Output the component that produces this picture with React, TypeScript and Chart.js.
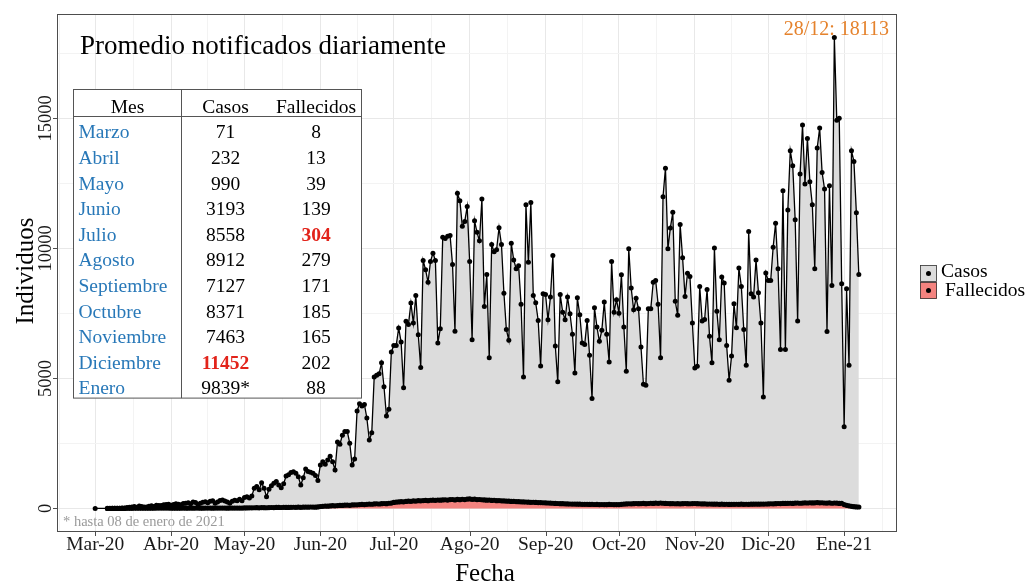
import React, { useEffect, useRef } from "react";
import { Chart, registerables } from "chart.js";

Chart.register(...registerables);

// ---------------- data ----------------
const seriesStart = "2020-03-01";

const casosMar = [0, null, null, null, null, 1, 2, 5, 4, 9, 11, 17, 22, 33, 42, 60, 74, 45, 90, 75, 55, 60, 80, 100, 75, 120, 110, 115, 140, 150, 160];
const casosAbr = [120, 150, 180, 160, 140, 190, 200, 220, 180, 250, 230, 160, 200, 240, 260, 220, 280, 300, 200, 250, 310, 330, 290, 250, 200, 280, 320, 300, 350, 300];
const casosMay = [420, 450, 400, 480, 780, 840, 720, 990, 780, 450, 740, 870, 970, 1040, 900, 800, 950, 1250, 1300, 1380, 1410, 1350, 1220, 900, 1180, 1515, 1420, 1390, 1350, 1270, 1080];
const casosJun = [1670, 1800, 1700, 1860, 2010, 1800, 1480, 2560, 2470, 2820, 2960, 2960, 2510, 1670, 1900, 3750, 4030, 3940, 4000, 3480, 2630, 2910, 5060, 5120, 5180, 5600, 4680, 3560, 3820, 6020];
const casosJul = [6270, 6270, 6940, 6400, 4640, 7200, 7080, 7900, 7130, 8190, 6680, 5420, 9540, 9180, 8700, 9500, 9820, 9540, 6360, 6910, 10430, 10380, 10470, 10500, 9380, 6820, 12120, 11840, 10850, 11040, 11610];
const casosAgo = [9500, 6490, 11070, 10620, 10300, 11900, 7770, 9000, 5800, 10150, 9870, 9950, 10800, 10150, 8280, 6880, 6470, 10200, 9560, 9220, 9340, 7850, 5060, 11680, 9470, 11770, 8190, 7910, 7230, 5480, 8260];
const casosSep = [8230, 7260, 8130, 9730, 6250, 4870, 8230, 7550, 7260, 8130, 7490, 6700, 5210, 8100, 7450, 6360, 6310, 7230, 5890, 4230, 7720, 6980, 6430, 6850, 7940, 6700, 5630, 9500, 7550, 8030];
const casosOct = [7510, 8990, 6980, 5280, 9990, 8480, 7640, 8090, 7680, 6210, 4780, 4740, 7680, 7680, 8700, 8770, 7850, 5800, 11990, 13090, 9990, 10790, 11390, 7970, 7430, 10920, 9640, 8150, 9050, 8920, 7130];
const casosNov = [5400, 5470, 8540, 7210, 7270, 8420, 6620, 5600, 10020, 7590, 6490, 8900, 8670, 6270, 4930, 5860, 7870, 6950, 9250, 8540, 6880, 5510, 10650, 8260, 8130, 9560, 8300, 7130, 4290, 9060];
const casosDic = [8770, 8770, 10050, 10970, 9220, 6110, 12220, 6110, 11480, 13760, 13180, 11100, 7210, 12860, 14750, 12480, 14230, 12570, 11680, 9220, 13860, 14630, 12920, 12290, 6810, 12410, 8580, 18113, 14930, 15010, 8640];
const casosEne = [3140, 8450, 5510, 13760, 13350, 11370, 9000];

const fallecidosMar = [null, null, null, null, null, 0, 0, 0, 0, 1, 1, 2, 3, 4, 5, 6, 7, 8, 9, 9, 10, 11, 11, 12, 12, 13, 13, 14, 14, 15, 15];
const fallecidosAbr = [10, 11, 9, 12, 10, 13, 12, 11, 14, 12, 13, 15, 11, 12, 14, 13, 15, 12, 14, 16, 13, 15, 14, 12, 16, 15, 14, 13, 15, 16];
const fallecidosMay = [20, 22, 25, 24, 28, 30, 26, 32, 30, 28, 34, 36, 33, 38, 40, 37, 42, 40, 39, 44, 46, 43, 48, 45, 50, 52, 48, 55, 53, 50, 58];
const fallecidosJun = [75, 82, 90, 88, 98, 105, 100, 110, 118, 115, 125, 130, 122, 135, 140, 138, 150, 155, 148, 160, 168, 162, 175, 180, 172, 185, 190, 182, 200, 208];
const fallecidosJul = [230, 245, 250, 262, 255, 270, 280, 275, 290, 285, 300, 295, 305, 310, 298, 315, 320, 312, 325, 318, 330, 335, 322, 340, 345, 330, 350, 338, 355, 342, 360];
const fallecidosAgo = [365, 350, 358, 340, 345, 335, 330, 320, 325, 310, 315, 300, 305, 295, 290, 285, 280, 270, 275, 265, 260, 255, 250, 248, 240, 235, 238, 230, 225, 228, 220];
const fallecidosSep = [215, 210, 205, 200, 195, 190, 185, 182, 178, 175, 172, 170, 168, 165, 163, 160, 158, 160, 155, 157, 152, 155, 150, 153, 148, 150, 155, 152, 150, 148];
const fallecidosOct = [150, 160, 170, 175, 180, 178, 185, 190, 182, 188, 195, 185, 190, 200, 195, 205, 198, 210, 200, 195, 190, 185, 188, 180, 182, 178, 185, 190, 183, 180, 186];
const fallecidosNov = [190, 185, 180, 175, 178, 170, 172, 168, 165, 170, 160, 165, 158, 162, 155, 160, 158, 162, 160, 165, 158, 162, 160, 165, 163, 168, 165, 170, 168, 172];
const fallecidosDic = [175, 180, 178, 185, 190, 188, 192, 195, 198, 200, 195, 205, 210, 200, 208, 215, 210, 220, 212, 218, 225, 215, 220, 210, 205, 215, 200, 210, 205, 195, 200];
const fallecidosEne = [150, 120, 100, 80, 70, 60, 55];

const tableMonths = ["Marzo", "Abril", "Mayo", "Junio", "Julio", "Agosto", "Septiembre", "Octubre", "Noviembre", "Diciembre", "Enero"];
const tableCases = [71, 232, 990, 3193, 8558, 8912, 7127, 8371, 7463, 11452, 9839];
const tableDeaths = [8, 13, 39, 139, 304, 279, 171, 185, 165, 202, 88];
const tableHeaders = ["Mes", "Casos", "Fallecidos"];

const xTickDates = ["2020-03-01", "2020-04-01", "2020-05-01", "2020-06-01", "2020-07-01", "2020-08-01", "2020-09-01", "2020-10-01", "2020-11-01", "2020-12-01", "2021-01-01"];
const xTickLabels = ["Mar-20", "Abr-20", "May-20", "Jun-20", "Jul-20", "Ago-20", "Sep-20", "Oct-20", "Nov-20", "Dic-20", "Ene-21"];
const yTickValues = [0, 5000, 10000, 15000];

const chartTitle = "Promedio notificados diariamente";
const footnote = "* hasta 08 de enero de 2021";
const xTitle = "Fecha";
const yTitle = "Individuos";
const seriesNames = ["Casos", "Fallecidos"];

// ---------------- helpers ----------------
const MS_DAY = 86400000;
const ORIGIN = Date.UTC(2020, 2, 1);
function dayIndex(iso: string): number {
  const [y, m, d] = iso.split("-").map(Number);
  return Math.round((Date.UTC(y, m - 1, d) - ORIGIN) / MS_DAY);
}
function isoOfDay(i: number): Date {
  return new Date(ORIGIN + i * MS_DAY);
}

const casos: (number | null)[] = ([] as (number | null)[]).concat(casosMar, casosAbr, casosMay, casosJun, casosJul, casosAgo, casosSep, casosOct, casosNov, casosDic, casosEne);
const fallecidos: (number | null)[] = ([] as (number | null)[]).concat(fallecidosMar, fallecidosAbr, fallecidosMay, fallecidosJun, fallecidosJul, fallecidosAgo, fallecidosSep, fallecidosOct, fallecidosNov, fallecidosDic, fallecidosEne);

const start = dayIndex(seriesStart);
const casosPts = casos.map((v, i) => ({ x: start + i, y: v }));
const fallecidosPts = fallecidos.map((v, i) => ({ x: start + i, y: v }));

const GREY = "#DCDCDC";
const PINK = "#F4837F";
const BLUE = "#2878B8";
const RED = "#E2231A";
const ORANGE = "#E5822C";
const FONT = '"Liberation Serif", "Times New Roman", serif';
const f = (s: number, bold = false) => `${bold ? "bold " : ""}${s}px ${FONT}`;

export default function App() {
  const ref = useRef<HTMLCanvasElement | null>(null);

  useEffect(() => {
    const canvas = ref.current;
    if (!canvas) return;

    // ggplot-like 5% expansion
    const validX = casosPts.filter((p) => p.y !== null).map((p) => p.x);
    const xMinD = Math.min(...validX);
    const xMaxD = Math.max(...validX);
    const xPad = 0.05 * (xMaxD - xMinD);
    const allY = [...casos, ...fallecidos].filter((v) => v !== null) as number[];
    const yMinD = Math.min(0, ...allY);
    const yMaxD = Math.max(...allY);
    const yPad = 0.05 * (yMaxD - yMinD);
    const xMin = xMinD - xPad;
    const xMax = xMaxD + xPad;
    const yMin = yMinD - yPad;
    const yMax = yMaxD + yPad;

    const xMajor = xTickDates.map(dayIndex);
    const firstD = new Date(ORIGIN + xMajor[0] * MS_DAY);
    const lastD = new Date(ORIGIN + xMajor[xMajor.length - 1] * MS_DAY);
    const before = Math.round((Date.UTC(firstD.getUTCFullYear(), firstD.getUTCMonth() - 1, 1) - ORIGIN) / MS_DAY);
    const after = Math.round((Date.UTC(lastD.getUTCFullYear(), lastD.getUTCMonth() + 1, 1) - ORIGIN) / MS_DAY);
    const bounds = [before, ...xMajor, after];
    const xMinor: number[] = [];
    for (let i = 0; i < bounds.length - 1; i++) xMinor.push((bounds[i] + bounds[i + 1]) / 2);
    const xGrid = [...xMajor, ...xMinor].filter((v) => v >= xMin && v <= xMax).sort((a, b) => a - b);
    const xMinorSet = new Set(xMinor);

    const yStep = yTickValues[1] - yTickValues[0];
    const yMinor: number[] = [];
    for (let v = yTickValues[0] - yStep / 2; v <= yMax; v += yStep) yMinor.push(v);
    const yGrid = [...yTickValues, ...yMinor].filter((v) => v >= yMin && v <= yMax).sort((a, b) => a - b);
    const yMinorSet = new Set(yMinor);

    // peak
    let peakI = 0;
    casos.forEach((v, i) => {
      if (v !== null && v > (casos[peakI] as number)) peakI = i;
    });
    const peakDate = isoOfDay(start + peakI);
    const peakLabel = `${String(peakDate.getUTCDate()).padStart(2, "0")}/${String(peakDate.getUTCMonth() + 1).padStart(2, "0")}: ${casos[peakI]}`;

    const maxCase = Math.max(...tableCases);
    const maxDeath = Math.max(...tableDeaths);

    const overlay = {
      id: "overlay",
      afterDraw(chart: any) {
        const { ctx, chartArea: a } = chart;
        const xs = chart.scales.x;
        const ys = chart.scales.y;
        ctx.save();

        // panel border
        ctx.strokeStyle = "#4d4d4d";
        ctx.lineWidth = 1;
        ctx.strokeRect(a.left + 0.5, a.top + 0.5, a.right - a.left - 1, a.bottom - a.top - 1);

        // tick marks
        ctx.beginPath();
        yTickValues.forEach((v) => {
          const p = Math.round(ys.getPixelForValue(v)) + 0.5;
          ctx.moveTo(a.left - 4, p);
          ctx.lineTo(a.left, p);
        });
        xTickDates.forEach((d) => {
          const p = Math.round(xs.getPixelForValue(dayIndex(d))) + 0.5;
          ctx.moveTo(p, a.bottom);
          ctx.lineTo(p, a.bottom + 4);
        });
        ctx.stroke();

        // y tick labels (rotated)
        ctx.fillStyle = "#1a1a1a";
        ctx.font = f(18.5);
        ctx.textAlign = "center";
        ctx.textBaseline = "alphabetic";
        yTickValues.forEach((v) => {
          const p = ys.getPixelForValue(v);
          ctx.save();
          ctx.translate(a.left - 6, p);
          ctx.rotate(-Math.PI / 2);
          ctx.fillText(String(v), 0, 0);
          ctx.restore();
        });

        // x tick labels
        ctx.font = f(19.5);
        xTickDates.forEach((d, i) => {
          ctx.fillText(xTickLabels[i], xs.getPixelForValue(dayIndex(d)), a.bottom + 18);
        });

        // axis titles
        ctx.fillStyle = "#000";
        ctx.font = f(25);
        ctx.fillText(xTitle, (a.left + a.right) / 2 + 8, a.bottom + 49);
        ctx.save();
        ctx.translate(33, (a.top + a.bottom) / 2 - 2);
        ctx.rotate(-Math.PI / 2);
        ctx.fillText(yTitle, 0, 0);
        ctx.restore();

        // chart title inside panel
        ctx.textAlign = "left";
        ctx.font = f(27);
        ctx.fillText(chartTitle, a.left + 23, a.top + 40);

        // peak annotation
        ctx.textAlign = "center";
        ctx.fillStyle = ORANGE;
        ctx.font = f(20);
        ctx.fillText(peakLabel, xs.getPixelForValue(start + peakI) + 2, ys.getPixelForValue(casos[peakI] as number) - 3);

        // footnote
        ctx.textAlign = "left";
        ctx.fillStyle = "#9a9a9a";
        ctx.font = f(14.5);
        ctx.fillText(footnote, a.left + 6, a.bottom - 6);

        // table
        const tx = 73.5, ty = 89.5, tw = 288, headH = 27, rowH = 25.6;
        const th = headH + rowH * tableMonths.length;
        const divX = 181.5, colCases = 225.5, colDeaths = 316, nameX = 78.5;
        ctx.fillStyle = "#fff";
        ctx.fillRect(tx, ty, tw, th);
        ctx.strokeStyle = "#555";
        ctx.lineWidth = 1;
        ctx.strokeRect(tx, ty, tw, th);
        ctx.beginPath();
        ctx.moveTo(tx, ty + headH);
        ctx.lineTo(tx + tw, ty + headH);
        ctx.moveTo(divX, ty);
        ctx.lineTo(divX, ty + th);
        ctx.stroke();

        ctx.font = f(19.5);
        ctx.fillStyle = "#000";
        ctx.textAlign = "center";
        ctx.fillText(tableHeaders[0], (tx + divX) / 2, ty + 23);
        ctx.fillText(tableHeaders[1], colCases, ty + 23);
        ctx.fillText(tableHeaders[2], colDeaths, ty + 23);

        tableMonths.forEach((m, i) => {
          const by = ty + headH + rowH * i + 21.8;
          ctx.textAlign = "left";
          ctx.fillStyle = BLUE;
          ctx.font = f(19.5);
          ctx.fillText(m, nameX, by);
          ctx.textAlign = "center";
          const partial = i === tableMonths.length - 1;
          const cTxt = String(tableCases[i]) + (partial ? "*" : "");
          const cMax = tableCases[i] === maxCase;
          ctx.fillStyle = cMax ? RED : "#000";
          ctx.font = f(19.5, cMax);
          ctx.fillText(cTxt, colCases, by);
          const dMax = tableDeaths[i] === maxDeath;
          ctx.fillStyle = dMax ? RED : "#000";
          ctx.font = f(19.5, dMax);
          ctx.fillText(String(tableDeaths[i]), colDeaths, by);
        });

        // legend
        const lx = 920, ly = 265, ks = 17;
        [GREY, PINK].forEach((col, i) => {
          const yy = ly + i * ks;
          ctx.fillStyle = col;
          ctx.fillRect(lx, yy, ks, ks);
          ctx.strokeStyle = "#333";
          ctx.lineWidth = 0.8;
          ctx.strokeRect(lx + 0.5, yy + 0.5, ks - 1, ks - 1);
          ctx.fillStyle = "#000";
          ctx.beginPath();
          ctx.arc(lx + ks / 2, yy + ks / 2, 2.5, 0, Math.PI * 2);
          ctx.fill();
        });
        ctx.fillStyle = "#000";
        ctx.textAlign = "left";
        ctx.font = f(19.5);
        ctx.fillText(seriesNames[0], 941, 277);
        ctx.fillText(seriesNames[1], 945, 296);

        ctx.restore();
      },
    };

    const chart = new Chart(canvas, {
      type: "line",
      data: {
        datasets: [
          {
            label: seriesNames[1],
            data: fallecidosPts as any,
            borderColor: "#000",
            backgroundColor: PINK,
            fill: "origin",
            borderWidth: 1.5,
            pointRadius: 2.6,
            pointBackgroundColor: "#000",
            pointBorderWidth: 0,
            spanGaps: true,
            tension: 0,
            order: 0,
          },
          {
            label: seriesNames[0],
            data: casosPts as any,
            borderColor: "#000",
            backgroundColor: GREY,
            fill: "origin",
            borderWidth: 1.3,
            pointRadius: 2.5,
            pointBackgroundColor: "#000",
            pointBorderWidth: 0,
            spanGaps: true,
            tension: 0,
            order: 1,
          },
        ],
      },
      options: {
        responsive: false,
        animation: false,
        devicePixelRatio: 1,
        events: [],
        layout: { padding: { left: 57, top: 14, right: 129, bottom: 52 } },
        plugins: {
          legend: { display: false },
          tooltip: { enabled: false },
          title: { display: false },
        },
        scales: {
          x: {
            type: "linear",
            min: xMin,
            max: xMax,
            ticks: { display: false },
            border: { display: false },
            grid: {
              drawTicks: false,
              color: (c: any) => (c.tick && xMinorSet.has(c.tick.value) ? "#F3F3F3" : "#E8E8E8"),
              lineWidth: 1,
            },
            afterBuildTicks: (s: any) => {
              s.ticks = xGrid.map((v) => ({ value: v }));
            },
            afterFit: (s: any) => {
              s.height = 0;
            },
          },
          y: {
            type: "linear",
            min: yMin,
            max: yMax,
            ticks: { display: false },
            border: { display: false },
            grid: {
              drawTicks: false,
              color: (c: any) => (c.tick && yMinorSet.has(c.tick.value) ? "#F3F3F3" : "#E8E8E8"),
              lineWidth: 1,
            },
            afterBuildTicks: (s: any) => {
              s.ticks = yGrid.map((v) => ({ value: v }));
            },
            afterFit: (s: any) => {
              s.width = 0;
            },
          },
        },
      },
      plugins: [overlay],
    });

    return () => chart.destroy();
  }, []);

  return (
    <div style={{ position: "fixed", left: 0, top: 0, width: 1026, height: 584, background: "#fff" }}>
      <canvas ref={ref} width={1026} height={584} style={{ display: "block", width: 1026, height: 584 }} />
    </div>
  );
}
